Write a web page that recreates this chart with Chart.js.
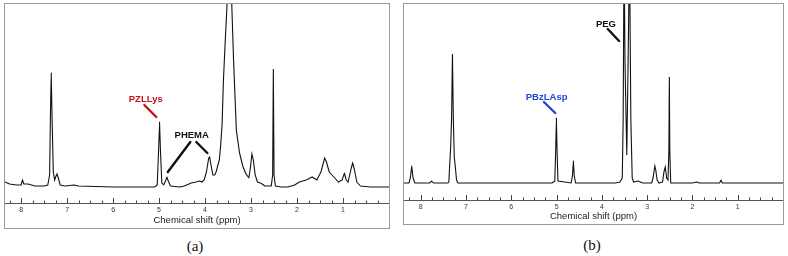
<!DOCTYPE html>
<html>
<head>
<meta charset="utf-8">
<script src="https://cdn.jsdelivr.net/npm/chart.js@4"></script>
<style>
  body { margin: 0; background: #fff; width: 788px; height: 256px; position: relative; overflow: hidden; }
  .frame { position: absolute; box-sizing: border-box; border: 1px solid #9a9a9a; }
  .frame canvas { display: block; }
  .cap { position: absolute; font-family: "Liberation Serif", "DejaVu Serif", serif; font-size: 15px; color: #111; transform: translate(-50%, -50%); }
</style>
</head>
<body>
<div class="frame" id="fa" style="left:4px; top:3px; width:386px; height:226px;"><canvas id="chart-a" width="384" height="224"></canvas></div>
<div class="frame" id="fb" style="left:403px; top:3px; width:381px; height:222px;"><canvas id="chart-b" width="379" height="220"></canvas></div>
<div class="cap" style="left:195px; top:246px;">(a)</div>
<div class="cap" style="left:592px; top:245px;">(b)</div>
<script>
// spectrum (a): chemical shift (ppm) and intensity
const ppmA = [8.35, 8.25, 8.10, 8.00, 7.97, 7.94, 7.85, 7.70, 7.50, 7.42, 7.38, 7.36, 7.345, 7.33, 7.30, 7.27, 7.24, 7.22, 7.19, 7.15,
  7.05, 6.85, 6.75, 6.00, 5.50, 5.10, 5.04, 5.01, 4.99, 4.97, 4.94, 4.90, 4.86, 4.83, 4.80, 4.75, 4.55, 4.45, 4.30, 4.20,
  4.12, 4.07, 4.02, 3.97, 3.92, 3.90, 3.87, 3.83, 3.79, 3.76, 3.72, 3.69, 3.66, 3.63, 3.60, 3.56, 3.52, 3.47, 3.42, 3.38,
  3.32, 3.25, 3.18, 3.12, 3.05, 3.02, 2.98, 2.95, 2.91, 2.86, 2.80, 2.76, 2.70, 2.56, 2.53, 2.515, 2.50, 2.47, 2.35, 2.20,
  2.05, 1.95, 1.80, 1.67, 1.57, 1.48, 1.40, 1.36, 1.30, 1.20, 1.10, 1.02, 0.97, 0.93, 0.89, 0.82, 0.79, 0.75, 0.70, 0.62,
  0.40, 0.00];
const intA = [21, 19, 18, 18, 23, 19, 19, 17, 17, 18, 28, 93, 130, 93, 31, 23, 27, 29, 25, 18,
  17, 18, 17, 16, 16, 16, 18, 53, 81, 53, 20, 18, 22, 26, 22, 17, 16, 17, 20, 21,
  22, 21, 23, 31, 45, 46, 38, 28, 28, 31, 38, 43, 58, 78, 123, 163, 200, 260, 200, 143,
  73, 50, 37, 30, 25, 33, 49, 43, 28, 21, 20, 19, 17, 17, 28, 134, 28, 17, 16, 16,
  18, 21, 23, 26, 23, 31, 45, 41, 31, 26, 21, 23, 30, 23, 21, 35, 40, 33, 21, 17,
  16, 16];

// spectrum (b)
const ppmB = [8.37, 8.26, 8.23, 8.20, 8.17, 8.13, 7.80, 7.76, 7.72, 7.40, 7.38, 7.355, 7.34, 7.32, 7.30, 7.28, 7.26, 7.24, 7.21, 7.18,
  5.10, 5.04, 5.02, 5.005, 4.99, 4.97, 4.68, 4.65, 4.63, 4.61, 4.58, 3.70, 3.60, 3.55, 3.53, 3.51, 3.49, 3.45, 3.42, 3.39,
  3.36, 3.33, 3.30, 3.20, 3.10, 2.90, 2.87, 2.83, 2.81, 2.78, 2.74, 2.66, 2.63, 2.60, 2.57, 2.54, 2.52, 2.51, 2.50, 2.48,
  2.00, 1.90, 1.85, 1.40, 1.37, 1.34, 0.00];
const intB = [17, 17, 22, 34, 22, 17, 17, 19, 17, 17, 18, 40, 52, 80, 146, 80, 43, 35, 20, 17,
  17, 19, 50, 82, 50, 19, 17, 24, 39, 24, 17, 17, 18, 22, 80, 250, 140, 45, 140, 250,
  80, 22, 18, 19, 17, 17, 22, 34, 30, 20, 17, 18, 28, 33, 22, 20, 50, 123, 50, 17,
  17, 18, 17, 17, 20, 17, 17];

const tickValues = [8, 7, 6, 5, 4, 3, 2, 1];
const axisTitle = 'Chemical shift (ppm)';

// text labels and pointer lines, in ppm / intensity
const notesA = [
  { text: 'PZLLys', color: '#c0141c', at: [5.29, 104], from: [5.32, 98], to: [5.06, 86] },
  { text: 'PHEMA', color: '#111', at: [4.29, 68], from: [4.32, 61], to: [4.81, 31] },
  { text: '', color: '#111', from: [4.19, 61], to: [3.95, 50] }
];
const notesB = [
  { text: 'PEG', color: '#111', at: [3.91, 176], from: [3.87, 171], to: [3.62, 159] },
  { text: 'PBzLAsp', color: '#2343d8', at: [5.22, 103], from: [5.28, 98], to: [5.03, 87] }
];

const axisDeco = {
  id: 'axisDeco',
  afterDatasetsDraw(chart) {
    const ctx = chart.ctx;
    const xs = chart.scales.x, ys = chart.scales.y;
    const bottom = chart.chartArea.bottom;
    ctx.save();
    // tick marks pointing up from the axis line
    ctx.strokeStyle = '#444';
    ctx.lineWidth = 1;
    for (let i = 0; i <= Math.floor(xs.max * 4); i++) {
      const v = i / 4;
      const x = Math.round(xs.getPixelForValue(v)) + 0.5;
      const len = (i % 4 === 0) ? 5 : 2.5;
      ctx.beginPath();
      ctx.moveTo(x, bottom);
      ctx.lineTo(x, bottom - len);
      ctx.stroke();
    }
    // labels with pointer lines
    const notes = chart.options.plugins.axisDeco.notes || [];
    ctx.font = 'bold 9.5px "Liberation Sans", Arial, sans-serif';
    ctx.textAlign = 'center';
    ctx.textBaseline = 'middle';
    ctx.lineCap = 'round';
    notes.forEach(n => {
      ctx.strokeStyle = n.color;
      ctx.fillStyle = n.color;
      ctx.lineWidth = 2.4;
      ctx.beginPath();
      ctx.moveTo(xs.getPixelForValue(n.from[0]), ys.getPixelForValue(n.from[1]));
      ctx.lineTo(xs.getPixelForValue(n.to[0]), ys.getPixelForValue(n.to[1]));
      ctx.stroke();
      if (n.text) ctx.fillText(n.text, xs.getPixelForValue(n.at[0]), ys.getPixelForValue(n.at[1]));
    });
    ctx.restore();
  }
};

function makeSpectrum(id, ppm, inten, xMax, yMax, axisH, notes) {
  const ctx = document.getElementById(id).getContext('2d');
  return new Chart(ctx, {
    type: 'line',
    data: {
      datasets: [{
        data: ppm.map((p, i) => ({ x: p, y: inten[i] })),
        borderColor: '#111',
        borderWidth: 1.1,
        pointRadius: 0,
        tension: 0.0001,   // keeps the straight segments but avoids the pixel-merging fast path
        fill: false
      }]
    },
    options: {
      responsive: false,
      animation: false,
      devicePixelRatio: 1,
      layout: { padding: 0 },
      plugins: { legend: { display: false }, tooltip: { enabled: false }, axisDeco: { notes: notes } },
      scales: {
        x: {
          type: 'linear',
          reverse: true,
          min: 0,
          max: xMax,
          afterBuildTicks: s => { s.ticks = tickValues.map(v => ({ value: v })); },
          afterFit: s => { s.height = axisH; },
          grid: { display: true, drawOnChartArea: false, drawTicks: false },
          border: { display: true, color: '#555', width: 1 },
          ticks: {
            padding: 3,
            maxRotation: 0,
            autoSkip: false,
            color: '#333',
            font: { family: '"Liberation Sans", Arial, sans-serif', size: 7 }
          },
          title: {
            display: true,
            text: axisTitle,
            color: '#222',
            padding: { top: 0, bottom: 2 },
            font: { family: '"Liberation Sans", Arial, sans-serif', size: 9.5 }
          }
        },
        y: { display: false, min: 0, max: yMax }
      }
    },
    plugins: [axisDeco]
  });
}

makeSpectrum('chart-a', ppmA, intA, 8.35, 199, 25, notesA);
makeSpectrum('chart-b', ppmB, intB, 8.37, 196, 24, notesB);
</script>
</body>
</html>
